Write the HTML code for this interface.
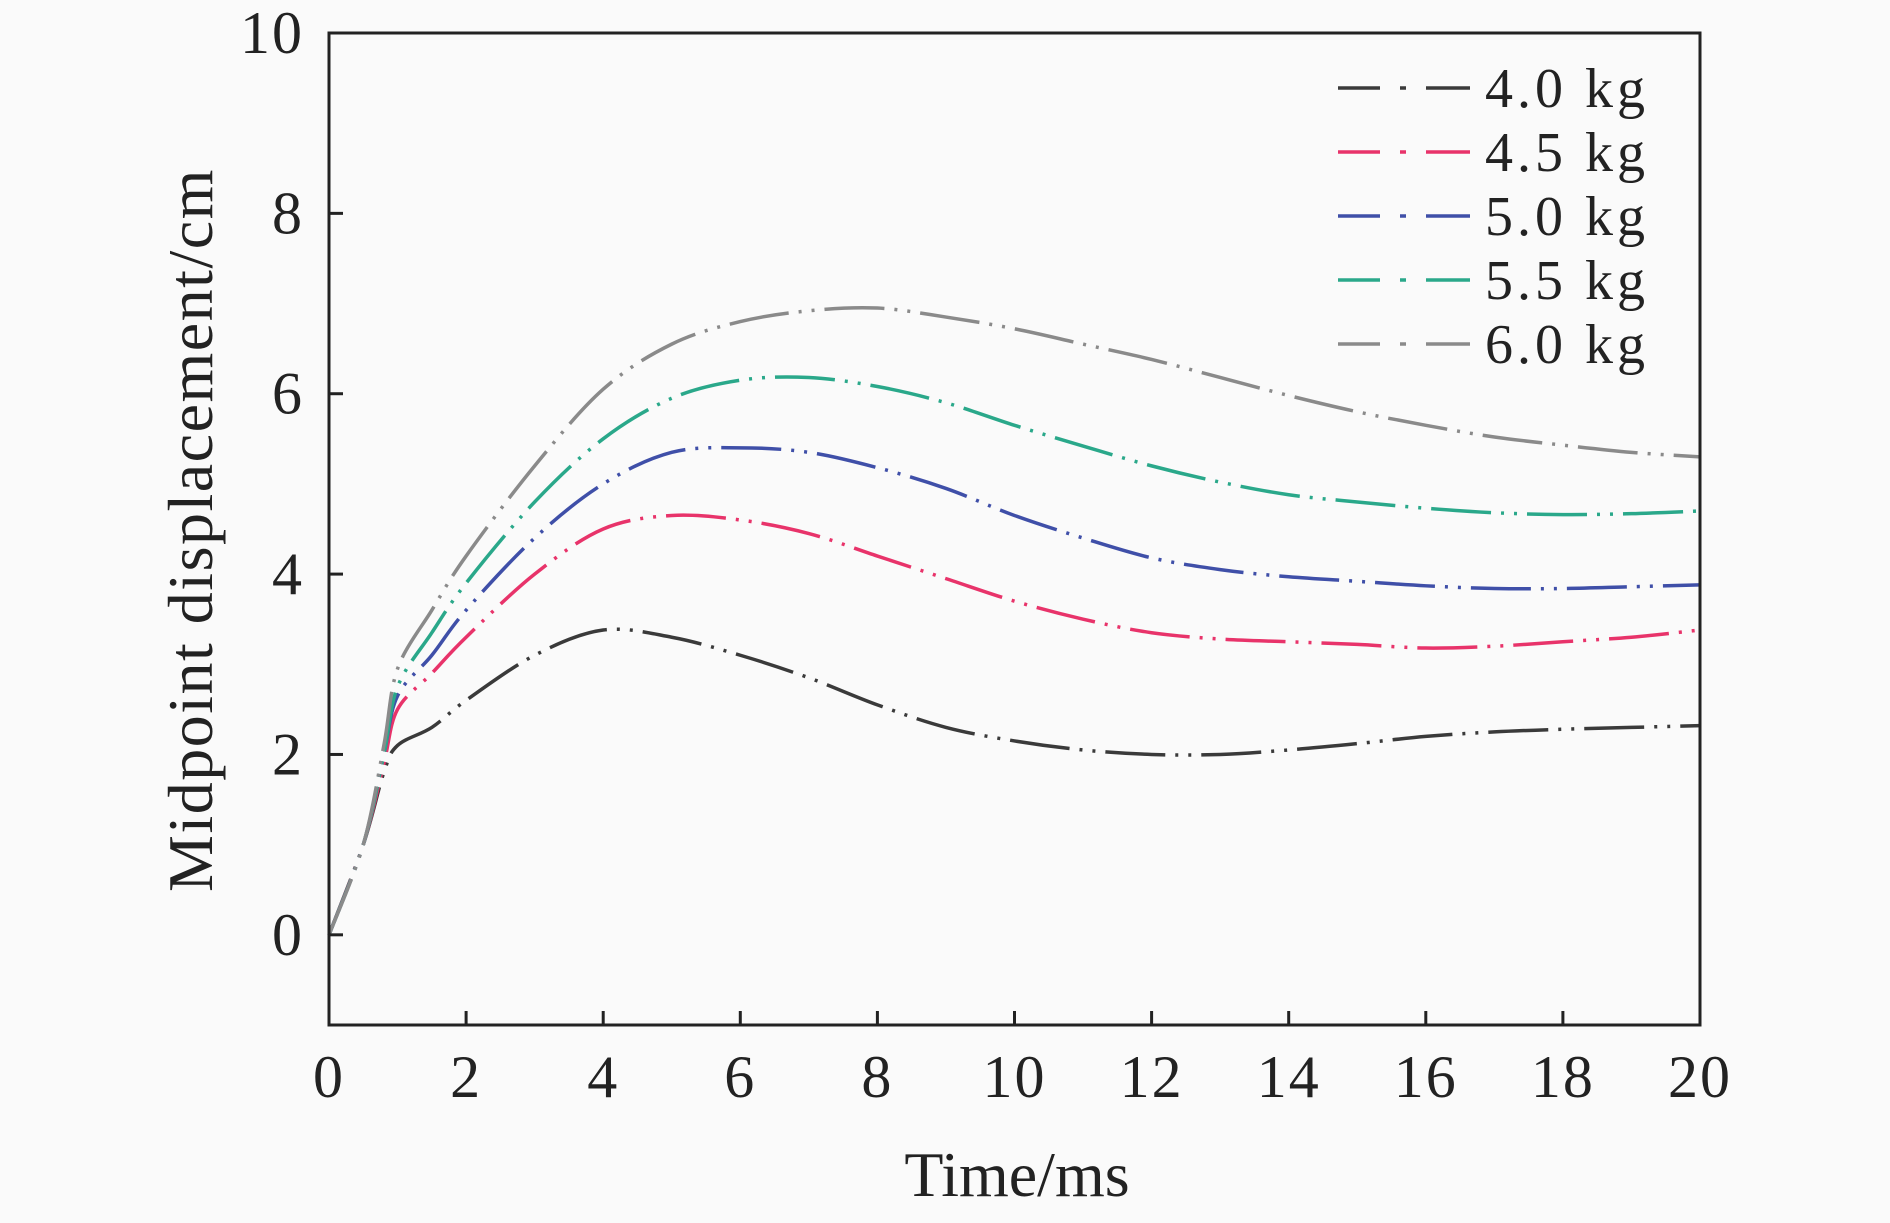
<!DOCTYPE html>
<html><head><meta charset="utf-8"><style>
html,body{margin:0;padding:0;background:#fafafa}
svg text{font-family:"Liberation Serif",serif;fill:#222}
</style></head><body>
<svg id="chart" width="1890" height="1218" viewBox="0 0 1890 1218">
<rect width="1890" height="1218" fill="#fafafa"/>
<g id="plot"></g>
</svg>
<script>
const timesMs = [0,0.5,0.8,1,1.5,2,3,4,5,6,7,8,9,10,11,12,13,14,15,16,17,18,19,20];
const seriesNames = ["4.0 kg","4.5 kg","5.0 kg","5.5 kg","6.0 kg"];
const s40 = [0,1.0,1.8,2.1,2.3,2.6,3.1,3.38,3.3,3.1,2.85,2.55,2.3,2.15,2.05,2.0,2.0,2.05,2.12,2.2,2.25,2.28,2.3,2.32];
const s45 = [0,1.0,1.9,2.5,2.9,3.3,4.0,4.5,4.65,4.6,4.45,4.2,3.95,3.7,3.5,3.35,3.28,3.25,3.22,3.18,3.2,3.25,3.3,3.38];
const s50 = [0,1.0,2.0,2.65,3.1,3.6,4.4,5.0,5.35,5.4,5.35,5.18,4.95,4.65,4.4,4.18,4.05,3.97,3.92,3.87,3.84,3.84,3.86,3.88];
const s55 = [0,1.0,2.0,2.75,3.35,3.9,4.8,5.5,5.95,6.15,6.18,6.08,5.9,5.65,5.42,5.2,5.02,4.88,4.8,4.73,4.68,4.66,4.67,4.7];
const s60 = [0,1.0,2.1,2.95,3.6,4.2,5.2,6.05,6.55,6.8,6.92,6.95,6.85,6.72,6.55,6.38,6.18,5.98,5.8,5.65,5.52,5.43,5.35,5.3];
const xTicks = [0,2,4,6,8,10,12,14,16,18,20];
const yTicks = [0,2,4,6,8,10];

const allSeries = [s40,s45,s50,s55,s60];
const colors = ["#3a3a3a","#e8336a","#3f4fa8","#2aa88a","#8a8a8a"];
const L=329,R=1700,T=33,B=1025;
const X=v=>L+(v-0)/(20-0)*(R-L);
const Y=v=>B-(v-(-1))/(10-(-1))*(B-T);
const NS="http://www.w3.org/2000/svg";
const g=document.getElementById('plot');
function mk(tag,attrs,parent){const e=document.createElementNS(NS,tag);for(const k in attrs)e.setAttribute(k,attrs[k]);(parent||g).appendChild(e);return e;}

allSeries.forEach((s,i)=>{
  const pts=timesMs.map((t,j)=>[X(t),Y(s[j])]);
  let d=`M${pts[0][0]},${pts[0][1]}`;
  for(let j=0;j<pts.length-1;j++){
    const p0=pts[Math.max(0,j-1)],p1=pts[j],p2=pts[j+1],p3=pts[Math.min(pts.length-1,j+2)];
    const c1=[p1[0]+(p2[0]-p0[0])/6,p1[1]+(p2[1]-p0[1])/6];
    const c2=[p2[0]-(p3[0]-p1[0])/6,p2[1]-(p3[1]-p1[1])/6];
    d+=` C${c1[0]},${c1[1]} ${c2[0]},${c2[1]} ${p2[0]},${p2[1]}`;
  }
  const p=mk('path',{d:d,fill:'none',stroke:colors[i],'stroke-width':3.5,'stroke-dasharray':'60 10 3 10 3 10'});
  
  
});

const fr=mk('rect',{x:L,y:T,width:R-L,height:B-T,fill:'none',stroke:'#222','stroke-width':3});



xTicks.forEach(v=>{
  const t=mk('line',{x1:X(v),x2:X(v),y1:B,y2:B-14,stroke:'#222','stroke-width':3});
  
  
  const tx=mk('text',{x:X(v),y:B+72,'text-anchor':'middle','font-size':60,'letter-spacing':2});
  tx.textContent=v;
  
  
});
yTicks.forEach(v=>{
  const t=mk('line',{x1:L,x2:L+14,y1:Y(v),y2:Y(v),stroke:'#222','stroke-width':3});
  
  
  const tx=mk('text',{x:304,y:Y(v)+20,'text-anchor':'end','font-size':60,'letter-spacing':2});
  tx.textContent=v;
  
  
});

const xt=mk('text',{x:1017,y:1196,'text-anchor':'middle','font-size':64});
xt.textContent='Time/ms';


const yt=mk('text',{x:0,y:0,'text-anchor':'middle','font-size':64,'letter-spacing':1.5,transform:'translate(212,530) rotate(-90)'});
yt.textContent='Midpoint displacement/cm';



seriesNames.forEach((n,i)=>{
  const y=88+i*64;
  const ln=mk('path',{d:`M1338,${y} H1380 M1400,${y} H1406 M1426,${y} H1470`,stroke:colors[i],'stroke-width':3.5,fill:'none'});
  
  
  const tx=mk('text',{x:1485,y:y+19,'font-size':56,'letter-spacing':4});
  tx.textContent=n;
  
  
});
</script>
</body></html>
